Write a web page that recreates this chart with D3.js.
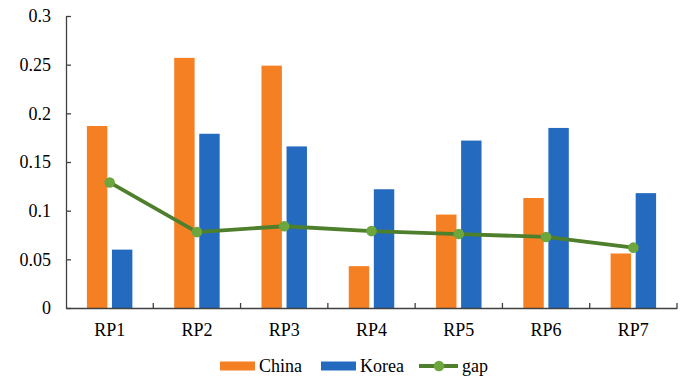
<!DOCTYPE html>
<html>
<head>
<meta charset="utf-8">
<script src="https://cdn.jsdelivr.net/npm/d3@7/dist/d3.min.js"></script>
<style>
  html, body { margin: 0; padding: 0; background: #fff; }
  svg { display: block; }
  text { font-family: "Liberation Serif", "Times New Roman", serif; fill: #000; }
</style>
</head>
<body>
<svg id="chart" width="686" height="378"></svg>
<script>
const categories = ["RP1", "RP2", "RP3", "RP4", "RP5", "RP6", "RP7"];
const china = [0.187, 0.257, 0.249, 0.043, 0.096, 0.113, 0.056];
const korea = [0.060, 0.179, 0.166, 0.122, 0.172, 0.185, 0.118];
const gap   = [0.129, 0.078, 0.084, 0.079, 0.076, 0.073, 0.062];
const yTicks = [0, 0.05, 0.1, 0.15, 0.2, 0.25, 0.3];
const yTickLabels = ["0", "0.05", "0.1", "0.15", "0.2", "0.25", "0.3"];
const seriesNames = ["China", "Korea", "gap"];

(function () {
const colors = { China: "#F58023", Korea: "#246ABF", gapLine: "#4E7F2C", gapDot: "#6CA63C" };
const axisColor = "#404040";
const fs = "18px";

const svg = d3.select("#chart");
const mLeft = 66, mRight = 677, mTop = 16, mBottom = 308;

const x = d3.scaleBand().domain(categories).range([mLeft, mRight]).padding(0);
const y = d3.scaleLinear().domain([0, 0.3]).range([mBottom, mTop]);

const bw = x.bandwidth();
const barW = bw * 0.234;
const barGap = bw * 0.053;

// bars
const g = svg.append("g");
g.selectAll("rect.china").data(categories).enter().append("rect")
  .attr("class", "china")
  .attr("x", (d) => x(d) + bw / 2 - barGap / 2 - barW)
  .attr("width", barW)
  .attr("y", (d, i) => y(china[i]))
  .attr("height", (d, i) => y(0) - y(china[i]))
  .attr("fill", colors.China);

g.selectAll("rect.korea").data(categories).enter().append("rect")
  .attr("class", "korea")
  .attr("x", (d) => x(d) + bw / 2 + barGap / 2)
  .attr("width", barW)
  .attr("y", (d, i) => y(korea[i]))
  .attr("height", (d, i) => y(0) - y(korea[i]))
  .attr("fill", colors.Korea);

// y axis
const yAxis = d3.axisLeft(y).tickValues(yTicks)
  .tickFormat((d, i) => yTickLabels[i]).tickSizeInner(-5).tickSizeOuter(0).tickPadding(15);
const ya = svg.append("g").attr("transform", `translate(${mLeft},0)`).call(yAxis);
ya.select(".domain").attr("stroke", axisColor).attr("stroke-width", 1.3);
ya.selectAll(".tick line").attr("stroke", axisColor).attr("stroke-width", 1.3);
ya.selectAll(".tick text").style("font-size", fs).style("font-family", "Liberation Serif").attr("fill", "#000");

// x axis
const xAxis = d3.axisBottom(x).tickSize(0).tickPadding(15);
const xa = svg.append("g").attr("transform", `translate(0,${mBottom})`).call(xAxis);
xa.select(".domain").attr("stroke", axisColor).attr("stroke-width", 1.3);
xa.selectAll(".tick text").style("font-size", fs).style("font-family", "Liberation Serif").attr("fill", "#000");
// category boundary ticks pointing up
const bounds = categories.map((c) => x(c)).slice(1).concat([mRight]);
xa.selectAll("line.bnd").data(bounds).enter().append("line")
  .attr("class", "bnd")
  .attr("x1", (d) => d).attr("x2", (d) => d)
  .attr("y1", 0).attr("y2", -5)
  .attr("stroke", axisColor).attr("stroke-width", 1.3);

// gap line
const line = d3.line().x((d, i) => x(categories[i]) + bw / 2).y((d) => y(d));
svg.append("path").datum(gap)
  .attr("d", line).attr("fill", "none")
  .attr("stroke", colors.gapLine).attr("stroke-width", 3.8);
svg.selectAll("circle.gap").data(gap).enter().append("circle")
  .attr("class", "gap")
  .attr("cx", (d, i) => x(categories[i]) + bw / 2)
  .attr("cy", (d) => y(d))
  .attr("r", 5.3)
  .attr("fill", colors.gapDot);

// legend
const lg = svg.append("g");
const ly = 366;
lg.append("rect").attr("x", 220).attr("y", ly - 4.5).attr("width", 35).attr("height", 9).attr("fill", colors.China);
lg.append("text").attr("x", 259).attr("y", ly + 6).style("font-size", fs).text(seriesNames[0]);
lg.append("rect").attr("x", 321).attr("y", ly - 4.5).attr("width", 35).attr("height", 9).attr("fill", colors.Korea);
lg.append("text").attr("x", 360).attr("y", ly + 6).style("font-size", fs).text(seriesNames[1]);
lg.append("line").attr("x1", 419).attr("x2", 458).attr("y1", ly).attr("y2", ly)
  .attr("stroke", colors.gapLine).attr("stroke-width", 3.8);
lg.append("circle").attr("cx", 439).attr("cy", ly).attr("r", 5.3).attr("fill", colors.gapDot);
lg.append("text").attr("x", 462).attr("y", ly + 6).style("font-size", fs).text(seriesNames[2]);
})();
</script>
</body>
</html>
